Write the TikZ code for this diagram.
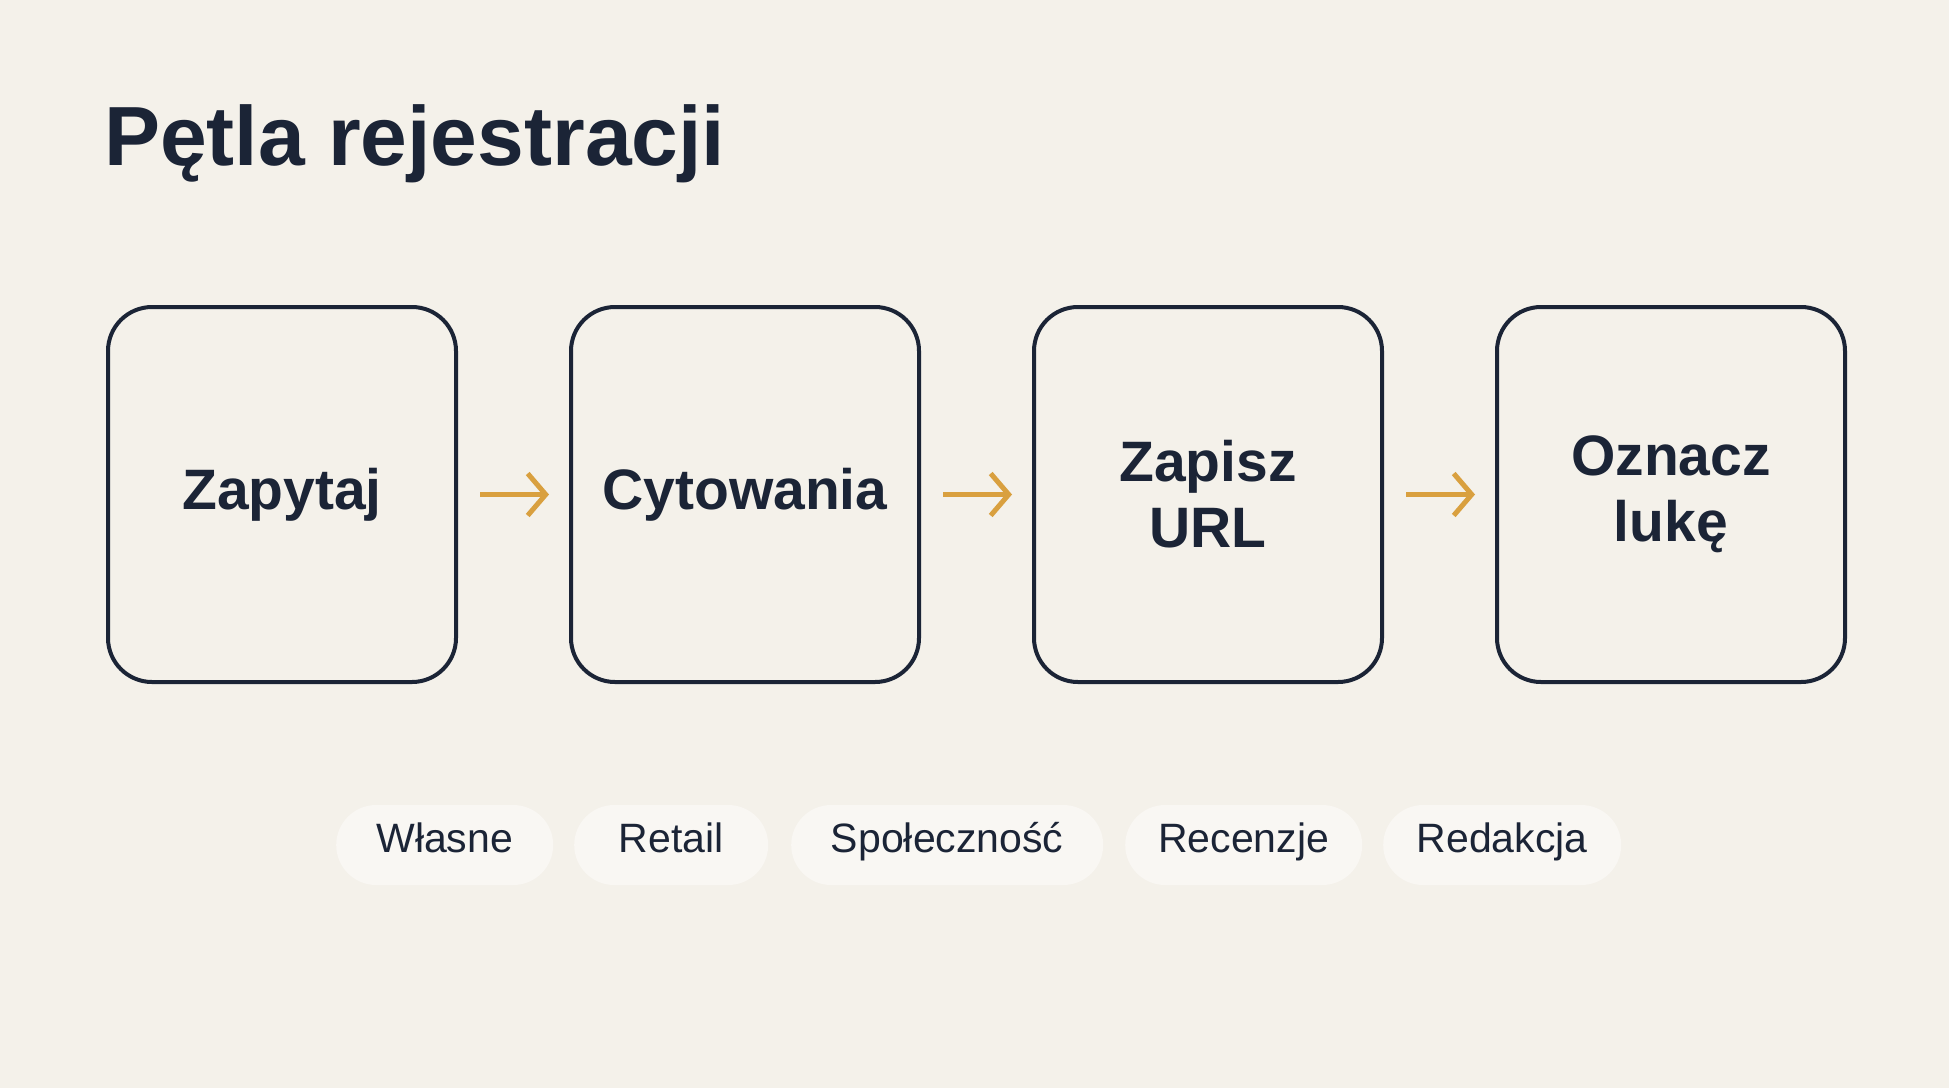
\documentclass[tikz,border=0pt]{standalone}
\usepackage{fontspec}
\setmainfont{Liberation Sans}
\usetikzlibrary{arrows.meta}
\begin{document}
\begin{tikzpicture}[x=1pt,y=-1pt,
  box/.style={draw=ink,line width=4pt,rounded corners=44pt,minimum width=348pt,minimum height=375pt,anchor=north west,align=center,font=\fontsize{57}{66}\selectfont\bfseries,text=ink,fill=bg},
  pill/.style={fill=pillc,rounded corners=40pt,minimum height=80pt,anchor=west,font=\fontsize{41}{48}\selectfont,text=ink,inner xsep=0pt,text height=26pt,text depth=11pt},
  arr/.style={draw=gold,line width=5pt,-{Straight Barb[length=18pt,width=42pt,line width=5pt]}}]
\definecolor{bg}{HTML}{F4F1EA}
\definecolor{ink}{HTML}{1B2436}
\definecolor{gold}{HTML}{D9A03F}
\definecolor{pillc}{HTML}{F9F7F3}
\fill[bg] (0,0) rectangle (1949,1088);
\useasboundingbox (0,0) rectangle (1949,1088);
\node[anchor=base west,font=\fontsize{84}{96}\selectfont\bfseries,text=ink,inner sep=0pt] (title) at (104,165) {Pętla rejestracji};
\node[box] (b1) at (106,305) {Zapytaj};
\node[box] (b2) at (569,305) {Cytowania};
\node[box] (b3) at (1032,305) {Zapisz\\URL};
\node[box] (b4) at (1495,305) {Oznacz\\lukę};
\draw[arr] ([xshift=22pt]b1.east) -- ([xshift=-20pt]b2.west);
\draw[arr] ([xshift=22pt]b2.east) -- ([xshift=-20pt]b3.west);
\draw[arr] ([xshift=22pt]b3.east) -- ([xshift=-20pt]b4.west);
\node[pill,minimum width=217pt] (p1) at (336,845) {Własne};
\node[pill,minimum width=194pt] (p2) at (574,845) {Retail};
\node[pill,minimum width=312pt] (p3) at (791,845) {Społeczność};
\node[pill,minimum width=237pt] (p4) at (1125,845) {Recenzje};
\node[pill,minimum width=238pt] (p5) at (1383,845) {Redakcja};
\end{tikzpicture}
\end{document}
